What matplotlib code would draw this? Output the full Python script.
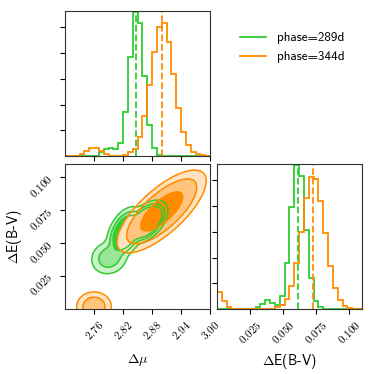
import numpy as np
import matplotlib
matplotlib.use("Agg")
import matplotlib.pyplot as plt
from matplotlib.colors import to_rgba
from matplotlib.lines import Line2D
from matplotlib.ticker import FuncFormatter

plt.rcParams["font.family"] = ["cmss10", "DejaVu Sans"]
plt.rcParams["mathtext.fontset"] = "cm"
plt.rcParams["axes.unicode_minus"] = False

series_labels = ["phase=289d", "phase=344d"]
series_colors = ["limegreen", "darkorange"]

mu_edges = np.linspace(2.70, 3.00, 31)
ebv_edges = np.linspace(0.0, 0.11, 31)

# 1D marginal histograms (normalised units)
mu_hist_289 = [0, 0, 0, 0, 0, 0, 0, 0.15, 0.27, 0.30, 0.27, 0.52, 1.70, 3.84, 5.62,
               5.17, 3.10, 1.19, 0.31, 0.05, 0, 0, 0, 0, 0, 0, 0, 0, 0, 0]
mu_hist_344 = [0, 0, 0, 0.06, 0.20, 0.30, 0.33, 0.20, 0.08, 0, 0, 0, 0.04, 0.15, 0.29,
               0.73, 1.55, 2.75, 4.06, 5.02, 5.16, 4.42, 3.20, 1.86, 0.94, 0.43, 0.17, 0.06, 0.02, 0]
ebv_hist_289 = [0, 0, 0, 0, 0, 0, 0, 0, 0.08, 0.21, 0.35, 0.25, 0.16, 0.52, 1.78,
                3.95, 5.62, 5.17, 3.08, 1.20, 0.32, 0.06, 0, 0, 0, 0, 0, 0, 0, 0]
ebv_hist_344 = [0.66, 0.30, 0.07, 0, 0, 0, 0, 0, 0, 0, 0, 0, 0.08, 0.14, 0.40,
                0.89, 1.78, 3.00, 4.30, 5.15, 5.06, 4.20, 2.95, 1.68, 0.81, 0.35, 0.12, 0.03, 0, 0]
mu_median = [2.847, 2.900]
ebv_median = [0.0618, 0.0730]
hist_yticks = [1, 2, 3, 4, 5]

# 2D density components (mean, sigma, correlation, weight) per phase
g_means = [(2.868, 0.066), (2.825, 0.058), (2.791, 0.0388)]
g_sigmas = [(0.0135, 0.0050), (0.013, 0.0065), (0.0160, 0.0054)]
g_rhos = [0.5, 0.4, 0.1]
g_weights = [1.0, 0.5, 0.07]
g_levels = [0.004, 0.02, 0.056]

o_means = [(2.900, 0.074), (2.760, 0.0017)]
o_sigmas = [(0.025, 0.0085), (0.0121, 0.0038)]
o_rhos = [0.74, 0.0]
o_weights = [0.972, 0.028]
o_levels = [0.0011, 0.015, 0.22]


def mixture(X, Y, means, sigmas, rhos, weights):
    Z = np.zeros_like(X)
    for (mx, my), (sx, sy), r, w in zip(means, sigmas, rhos, weights):
        dx = (X - mx) / sx
        dy = (Y - my) / sy
        q = (dx * dx - 2 * r * dx * dy + dy * dy) / (1 - r * r)
        Z += w * np.exp(-0.5 * q) / (2 * np.pi * sx * sy * np.sqrt(1 - r * r))
    return Z / Z.max()


X, Y = np.meshgrid(np.linspace(2.68, 3.02, 400), np.linspace(-0.012, 0.12, 400))
densities = [mixture(X, Y, g_means, g_sigmas, g_rhos, g_weights),
             mixture(X, Y, o_means, o_sigmas, o_rhos, o_weights)]
levels = [g_levels, o_levels]
mu_hists = [mu_hist_289, mu_hist_344]
ebv_hists = [ebv_hist_289, ebv_hist_344]

fig = plt.figure(figsize=(3.74, 3.74), dpi=100)
w = 0.3877
ax_top = fig.add_axes([0.1738, 0.5829, w, w])
ax_2d = fig.add_axes([0.1738, 0.1738, w, w])
ax_right = fig.add_axes([0.5802, 0.1738, w, w])

fmt3 = FuncFormatter(lambda v, p: f"${v:.3f}$")
fmt2 = FuncFormatter(lambda v, p: f"${v:.2f}$")
mu_ticks = [2.76, 2.82, 2.88, 2.94, 3.00]
ebv_ticks = [0.025, 0.050, 0.075, 0.100]

for i in range(2):
    c = series_colors[i]
    ax_top.stairs(mu_hists[i], mu_edges, color=c, lw=1.3)
    ax_top.axvline(mu_median[i], color=c, ls="--", lw=1.3)
    ax_right.stairs(ebv_hists[i], ebv_edges, color=c, lw=1.3)
    ax_right.axvline(ebv_median[i], color=c, ls="--", lw=1.3)

    rgba = to_rgba(c)
    fills = [(rgba[0], rgba[1], rgba[2], a) for a in (0.25, 0.5, 1.0)]
    lv = list(levels[i])
    ax_2d.contourf(X, Y, densities[i], [lv[0], 1.0001], colors=["white"], antialiased=False)
    ax_2d.contourf(X, Y, densities[i], lv + [1.0001], colors=fills, antialiased=False)

for i in range(2):
    ax_2d.contour(X, Y, densities[i], levels[i], colors=series_colors[i], linewidths=1.1, zorder=3)

for ax in (ax_top, ax_2d):
    ax.set_xlim(2.70, 3.00)
    ax.set_xticks(mu_ticks)
ax_top.set_xticklabels([])
ax_2d.set_ylim(0, 0.11)
ax_2d.set_yticks(ebv_ticks)
ax_2d.xaxis.set_major_formatter(fmt2)
ax_2d.yaxis.set_major_formatter(fmt3)

ax_right.set_xlim(0, 0.11)
ax_right.set_xticks(ebv_ticks)
ax_right.xaxis.set_major_formatter(fmt3)

for ax in (ax_top, ax_right):
    ax.set_ylim(0, 5.64)
    ax.set_yticks(hist_yticks)
    ax.set_yticklabels([])

for ax in (ax_top, ax_2d, ax_right):
    ax.tick_params(labelsize=8)
    for sp in ax.spines.values():
        sp.set_color("#333333")
for ax in (ax_2d, ax_right):
    for lbl in ax.get_xticklabels():
        lbl.set_rotation(45)
for lbl in ax_2d.get_yticklabels():
    lbl.set_rotation(45)

ax_2d.set_xlabel(r"$\Delta\mu$", fontsize=10)
ax_2d.set_ylabel(r"$\Delta$E(B-V)", fontsize=10)
ax_right.set_xlabel(r"$\Delta$E(B-V)", fontsize=10)
ax_2d.xaxis.set_label_coords(0.5, -0.3)
ax_2d.yaxis.set_label_coords(-0.28, 0.5)
ax_right.xaxis.set_label_coords(0.5, -0.3)

handles = [Line2D([], [], color=c, lw=1.3) for c in series_colors]
fig.legend(handles, series_labels, loc="upper left", bbox_to_anchor=(0.6275, 0.928),
           borderaxespad=0, frameon=False, fontsize=9.5)

fig.savefig("out.png", dpi=100)
